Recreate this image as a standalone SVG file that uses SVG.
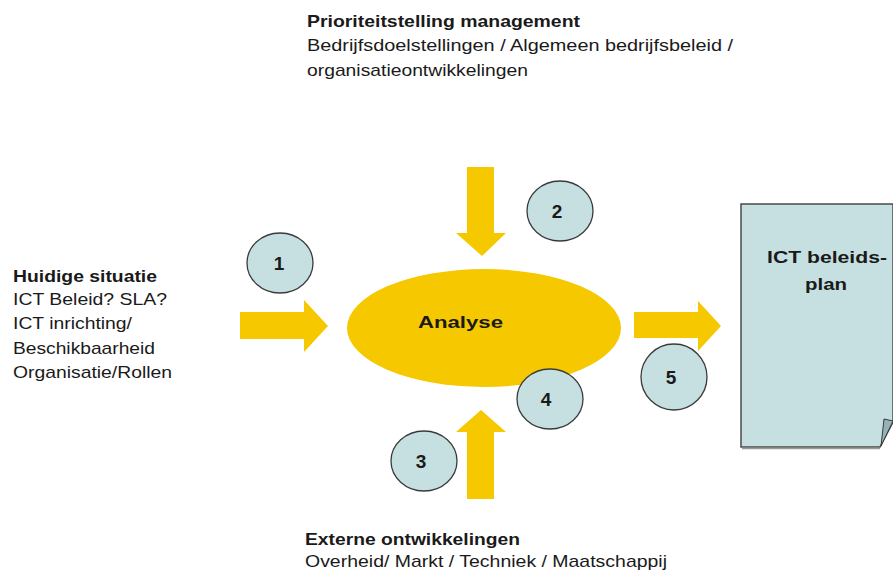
<svg xmlns="http://www.w3.org/2000/svg" width="893" height="572" viewBox="0 0 893 572">
<style>
.t{font-family:"Liberation Sans",Arial,sans-serif;font-size:17px;fill:#1a1a1a}
.b{font-weight:bold}
.num{font-family:"Liberation Sans",Arial,sans-serif;font-size:19px;font-weight:bold;fill:#1a1a1a;text-anchor:middle}
.c{fill:#c6e0e1;stroke:#3a3a3a;stroke-width:1.3}
.arrow{fill:#f5c800}
</style>
<rect width="893" height="572" fill="#ffffff"/>
<g id="connectors">
<polygon class="arrow" points="240,312 304,312 304,300 328,326 304,352 304,339 240,339"/>
<polygon class="arrow" points="467,167 494,167 494,233 506,233 482,256 456,233 467,233"/>
<polygon class="arrow" points="467,499 494,499 494,432 506,432 481,410 456,432 467,432"/>
<polygon class="arrow" points="634,312 698,312 698,301 721,326 698,351 698,338 634,338"/>
</g>
<g id="analyse">
<ellipse cx="484" cy="328" rx="137" ry="59" fill="#f5c800"/>
<text class="t b" x="418" y="328" font-size="20" textLength="85" lengthAdjust="spacingAndGlyphs">Analyse</text>
</g>
<g id="plan">
<path d="M741,204 L893,204 L893,422 L880,447 L741,447 Z" fill="#c6e0e1" stroke="#4a4a4a" stroke-width="1.5"/>
<path d="M742,448.5 L880,448.5" stroke="#9a9a9a" stroke-width="1.5"/>
<polygon points="884,419 893,421 881,446" fill="#93b3b8" stroke="#3a3a3a" stroke-width="1"/>
<text class="t b" x="767" y="263" font-size="19" textLength="120" lengthAdjust="spacingAndGlyphs">ICT beleids-</text>
<text class="t b" x="805" y="290" font-size="19" textLength="42" lengthAdjust="spacingAndGlyphs">plan</text>
</g>
<g id="n1"><ellipse class="c" cx="280" cy="263" rx="33" ry="30"/><text class="num" x="279" y="270">1</text></g>
<g id="n2"><ellipse class="c" cx="560" cy="211" rx="33" ry="30"/><text class="num" x="557" y="218">2</text></g>
<g id="n3"><ellipse class="c" cx="424" cy="461" rx="33" ry="30"/><text class="num" x="421" y="468">3</text></g>
<g id="n4"><ellipse class="c" cx="550" cy="399" rx="33" ry="30"/><text class="num" x="546" y="406">4</text></g>
<g id="n5"><ellipse class="c" cx="674" cy="377" rx="33" ry="33"/><text class="num" x="671" y="384">5</text></g>
<g id="huidige">
<text class="t b" x="13" y="282" textLength="144" lengthAdjust="spacingAndGlyphs">Huidige situatie</text>
<text class="t" x="13" y="305" textLength="154" lengthAdjust="spacingAndGlyphs">ICT Beleid? SLA?</text>
<text class="t" x="13" y="329" textLength="119" lengthAdjust="spacingAndGlyphs">ICT inrichting/</text>
<text class="t" x="13" y="354" textLength="142" lengthAdjust="spacingAndGlyphs">Beschikbaarheid</text>
<text class="t" x="13" y="378" textLength="159" lengthAdjust="spacingAndGlyphs">Organisatie/Rollen</text>
</g>
<g id="prioriteit">
<text class="t b" x="307" y="27" textLength="273" lengthAdjust="spacingAndGlyphs">Prioriteitstelling management</text>
<text class="t" x="307" y="51" textLength="426" lengthAdjust="spacingAndGlyphs">Bedrijfsdoelstellingen / Algemeen bedrijfsbeleid /</text>
<text class="t" x="307" y="76" textLength="221" lengthAdjust="spacingAndGlyphs">organisatieontwikkelingen</text>
</g>
<g id="extern">
<text class="t b" x="305" y="545" textLength="215" lengthAdjust="spacingAndGlyphs">Externe ontwikkelingen</text>
<text class="t" x="305" y="567" textLength="362" lengthAdjust="spacingAndGlyphs">Overheid/ Markt / Techniek / Maatschappij</text>
</g>
</svg>
